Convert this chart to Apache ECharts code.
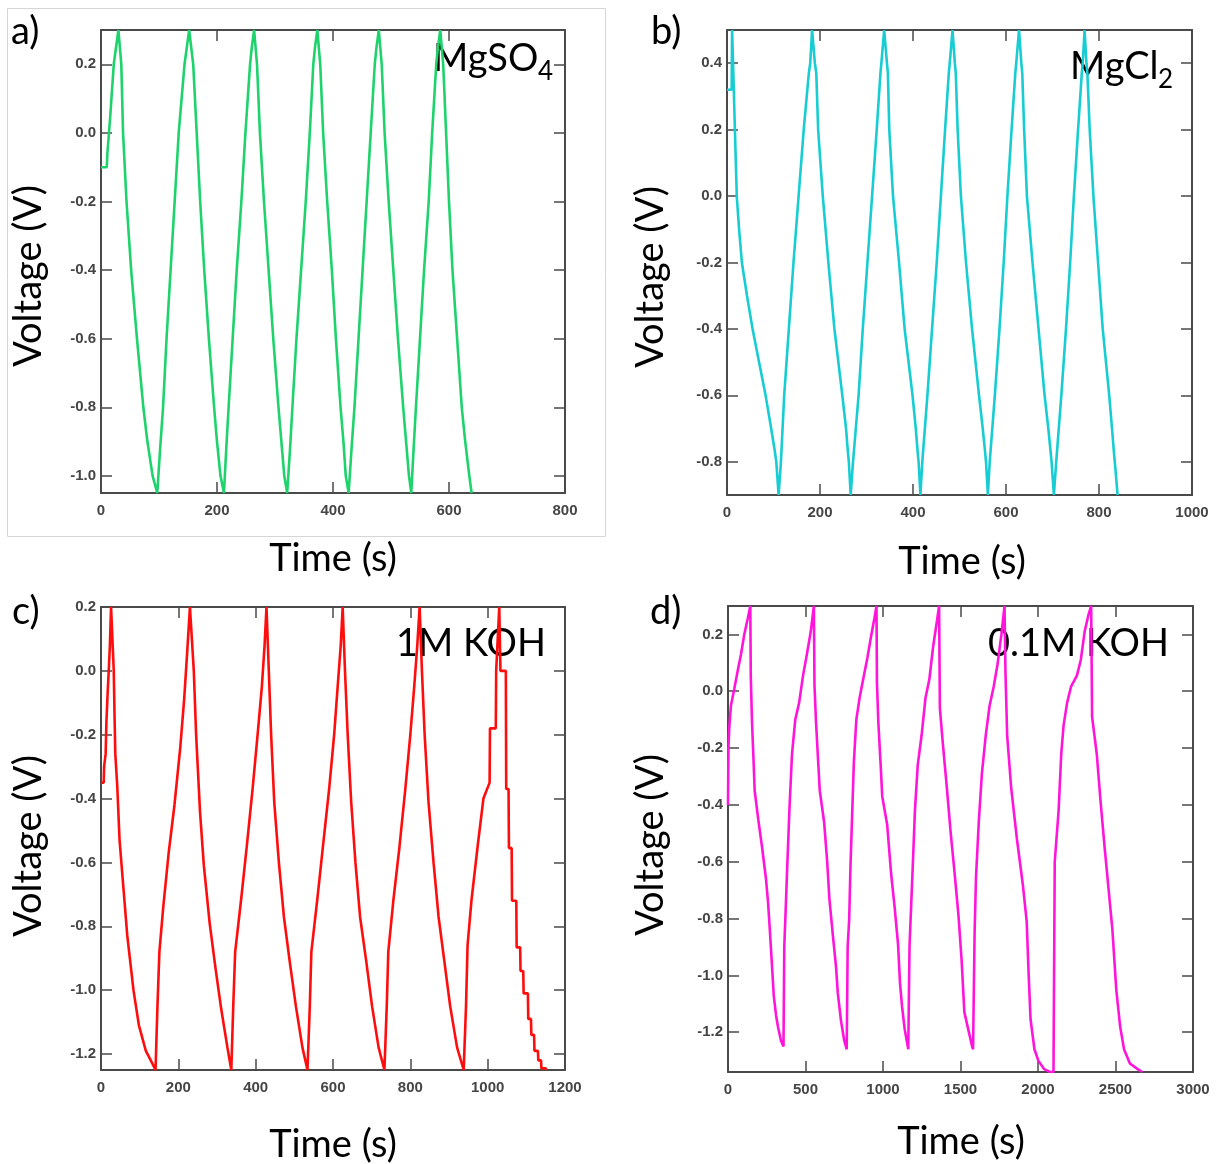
<!DOCTYPE html>
<html><head><meta charset="utf-8">
<script src="https://cdn.jsdelivr.net/npm/echarts@6/dist/echarts.min.js"></script>
<style>html,body{margin:0;padding:0;background:#fff}#c{width:1221px;height:1164px}</style>
</head><body><div id="c"></div>
<script>
// ---- Data: [time (s), voltage (V)] ----
const mgso4Data = [
 [0,-0.10],[10,-0.10],[11,-0.06],[16,0.05],[22,0.2],[30,0.3],
 [33,0.3],[35,0.2],[38,0.0],[44,-0.2],[52,-0.4],[62,-0.6],[73,-0.8],[80,-0.9],[89,-1.0],[97,-1.05],
 [100,-1.05],[102,-0.92],[107,-0.8],[113,-0.6],[120,-0.4],[127,-0.2],[134,0.0],[144,0.2],[148,0.25],[152,0.3],
 [155,0.3],[159,0.2],[165,0.0],[171,-0.2],[178,-0.4],[186,-0.6],[195,-0.8],[200,-0.9],[206,-1.0],[212,-1.05],
 [214,-1.05],[216,-0.92],[220,-0.8],[227,-0.6],[234,-0.4],[242,-0.2],[249,0.0],[257,0.2],[260,0.25],[264,0.3],
 [266,0.3],[269,0.2],[274,0.0],[281,-0.2],[289,-0.4],[297,-0.6],[306,-0.8],[311,-0.9],[316,-1.0],[321,-1.05],
 [323,-1.05],[326,-0.92],[330,-0.8],[337,-0.6],[345,-0.4],[353,-0.2],[360,0.0],[366,0.2],[369,0.25],[373,0.3],
 [375,0.3],[378,0.2],[383,0.0],[390,-0.2],[398,-0.4],[405,-0.6],[413,-0.8],[418,-0.9],[422,-1.0],[427,-1.05],
 [429,-1.05],[432,-0.92],[437,-0.8],[444,-0.6],[451,-0.4],[458,-0.2],[465,0.0],[472,0.2],[475,0.25],[479,0.3],
 [481,0.3],[484,0.2],[489,0.0],[496,-0.2],[504,-0.4],[512,-0.6],[521,-0.8],[526,-0.9],[531,-1.0],[535,-1.05],
 [537,-1.05],[539,-0.92],[543,-0.8],[550,-0.6],[557,-0.4],[565,-0.2],[571,0.0],[578,0.2],[581,0.25],[585,0.3],
 [587,0.3],[590,0.2],[595,0.0],[600,-0.2],[606,-0.4],[614,-0.6],[622,-0.8],[628,-0.9],[635,-1.0],[639,-1.05]
];
const mgcl2Data = [
 [0,0.32],[10,0.32],[11,0.5],[13,0.5],[15,0.3],[17,0.2],[21,0.0],[26,-0.1],[32,-0.2],[43,-0.3],[55,-0.4],[69,-0.5],[83,-0.6],[95,-0.7],[103,-0.77],[106,-0.8],[111,-0.9],
 [114,-0.9],[116,-0.8],[123,-0.6],[133,-0.4],[143,-0.2],[154,0.0],[165,0.2],[176,0.37],[179,0.4],[183,0.5],
 [186,0.5],[189,0.4],[192,0.37],[196,0.2],[206,0.0],[218,-0.2],[231,-0.4],[248,-0.6],[256,-0.7],[260,-0.77],[262,-0.8],[266,-0.9],
 [269,-0.9],[271,-0.8],[283,-0.6],[292,-0.4],[302,-0.2],[312,0.0],[322,0.2],[330,0.37],[332,0.4],[338,0.5],
 [341,0.5],[344,0.4],[346,0.37],[349,0.2],[357,0.0],[370,-0.2],[382,-0.4],[399,-0.6],[406,-0.7],[410,-0.77],[412,-0.8],[416,-0.9],
 [418,-0.9],[420,-0.8],[431,-0.6],[441,-0.4],[451,-0.2],[460,0.0],[469,0.2],[477,0.37],[479,0.4],[485,0.5],
 [487,0.5],[490,0.4],[492,0.37],[496,0.2],[503,0.0],[514,-0.2],[527,-0.4],[542,-0.6],[550,-0.7],[555,-0.77],[557,-0.8],[561,-0.9],
 [563,-0.9],[565,-0.8],[576,-0.6],[586,-0.4],[595,-0.2],[603,0.0],[612,0.2],[620,0.37],[622,0.4],[628,0.5],
 [630,0.5],[633,0.4],[635,0.37],[639,0.2],[645,0.0],[657,-0.2],[670,-0.4],[683,-0.6],[691,-0.7],[696,-0.77],[698,-0.8],[703,-0.9],
 [705,-0.9],[708,-0.8],[719,-0.6],[729,-0.4],[738,-0.2],[746,0.0],[755,0.2],[763,0.37],[765,0.4],[769,0.5],
 [771,0.5],[773,0.4],[775,0.37],[780,0.2],[788,0.0],[798,-0.2],[808,-0.4],[822,-0.6],[828,-0.7],[832,-0.77],[834,-0.8],[840,-0.9]
];
const koh1Data = [
 [0,-0.35],[7,-0.35],[8,-0.3],[12,-0.26],[14,-0.16],[17.5,-0.06],[20,0.0],[23,0.08],[26,0.2],
 [31,0.2],[33,0.0],[35,-0.14],[37,-0.26],[42,-0.36],[48,-0.53],[58,-0.68],[68,-0.83],[84,-1.0],[98,-1.11],[116,-1.19],[133,-1.23],[141,-1.25],
 [144,-1.25],[146,-1.05],[151,-0.88],[161,-0.74],[175,-0.57],[190,-0.42],[205,-0.24],[215,-0.09],[223,0.06],[230,0.2],
 [235,0.2],[240,0.0],[246,-0.2],[256,-0.44],[266,-0.61],[281,-0.79],[296,-0.93],[311,-1.06],[327,-1.18],[337,-1.25],
 [340,-1.25],[342,-1.05],[347,-0.88],[362,-0.72],[377,-0.55],[392,-0.37],[405,-0.2],[416,-0.05],[423,0.08],[428,0.2],
 [430,0.2],[434,0.0],[440,-0.2],[448,-0.41],[460,-0.6],[473,-0.77],[488,-0.91],[504,-1.05],[521,-1.18],[534,-1.25],
 [538,-1.25],[540,-1.05],[544,-0.88],[559,-0.72],[574,-0.55],[590,-0.37],[603,-0.2],[612,-0.05],[620,0.08],[625,0.2],
 [627,0.2],[631,0.0],[638,-0.2],[647,-0.41],[658,-0.6],[670,-0.77],[686,-0.91],[701,-1.05],[718,-1.18],[733,-1.25],
 [737,-1.25],[739,-1.05],[743,-0.88],[756,-0.72],[772,-0.55],[787,-0.37],[800,-0.2],[810,-0.05],[818,0.08],[824,0.2],
 [827,0.2],[830,0.0],[837,-0.2],[847,-0.41],[860,-0.6],[873,-0.77],[888,-0.91],[903,-1.05],[921,-1.18],[938,-1.25],
 [942,-1.25],[944,-1.05],[948,-0.86],[958,-0.72],[974,-0.55],[989,-0.4],[1005,-0.35],[1006,-0.18],[1021,-0.18],[1022,0.0],[1025,0.0],[1026,0.1],[1030,0.2],
 [1032,0.2],[1033,0.0],[1047,0.0],[1048,-0.37],[1054,-0.37],[1055,-0.555],[1062,-0.555],[1063,-0.72],[1074,-0.72],[1075,-0.866],[1084,-0.866],[1085,-0.94],
 [1092,-0.94],[1093,-1.01],[1104,-1.01],[1105,-1.09],[1112,-1.09],[1113,-1.14],[1120,-1.14],[1121,-1.19],[1130,-1.19],[1131,-1.22],[1138,-1.22],[1139,-1.245],[1150,-1.245],[1152,-1.25]
];
const koh01Data = [
 [0,-0.4],[3,-0.2],[8,-0.13],[19,-0.05],[41,0.01],[62,0.07],[84,0.13],[105,0.2],[127,0.255],[144,0.3],
 [146,0.3],[147,0.05],[155,-0.11],[166,-0.26],[172,-0.35],[195,-0.45],[220,-0.55],[245,-0.66],[258,-0.74],[271,-0.85],[282,-0.95],[295,-1.07],[310,-1.14],[322,-1.18],[342,-1.23],[358,-1.25],
 [362,-1.25],[363,-0.9],[370,-0.8],[382,-0.62],[396,-0.42],[413,-0.22],[434,-0.1],[459,-0.04],[484,0.055],[509,0.13],[534,0.21],[554,0.3],
 [557,0.3],[558,0.02],[568,-0.11],[583,-0.26],[592,-0.35],[620,-0.46],[640,-0.6],[654,-0.73],[675,-0.85],[697,-0.97],[708,-1.06],[729,-1.16],[750,-1.23],[766,-1.26],
 [771,-1.26],[772,-0.9],[782,-0.8],[790,-0.62],[800,-0.45],[812,-0.25],[828,-0.1],[850,-0.02],[875,0.05],[900,0.12],[922,0.19],[944,0.255],[958,0.3],
 [960,0.3],[961,0.03],[970,-0.11],[985,-0.26],[995,-0.37],[1027,-0.47],[1052,-0.64],[1075,-0.76],[1097,-0.89],[1110,-1.03],[1123,-1.11],[1140,-1.19],[1163,-1.26],
 [1170,-1.26],[1171,-0.9],[1182,-0.75],[1191,-0.63],[1206,-0.42],[1224,-0.26],[1249,-0.155],[1274,-0.024],[1299,0.042],[1324,0.16],[1349,0.25],[1362,0.3],
 [1366,0.3],[1367,-0.06],[1387,-0.19],[1412,-0.34],[1437,-0.5],[1462,-0.64],[1487,-0.79],[1507,-0.945],[1525,-1.13],[1550,-1.19],[1575,-1.25],[1581,-1.26],
 [1590,-1.26],[1591,-0.85],[1600,-0.655],[1618,-0.46],[1638,-0.29],[1663,-0.155],[1688,-0.05],[1714,0.016],[1739,0.095],[1764,0.2],[1784,0.3],
 [1789,0.3],[1790,0.07],[1801,-0.155],[1827,-0.34],[1864,-0.52],[1902,-0.68],[1927,-0.81],[1940,-1.0],[1952,-1.155],[1977,-1.26],[2002,-1.3],[2040,-1.33],[2078,-1.34],[2100,-1.34],
 [2106,-1.34],[2108,-0.6],[2133,-0.42],[2150,-0.22],[2165,-0.12],[2188,-0.04],[2213,0.016],[2251,0.055],[2276,0.11],[2301,0.21],[2326,0.27],[2343,0.3],
 [2348,0.3],[2349,-0.09],[2379,-0.22],[2404,-0.39],[2430,-0.55],[2455,-0.695],[2480,-0.84],[2505,-1.05],[2530,-1.18],[2555,-1.26],[2593,-1.31],[2643,-1.33],[2673,-1.34]
];

// ---- Tick values ----
const yTicksA = [-1.0,-0.8,-0.6,-0.4,-0.2,0.0,0.2];
const yTicksB = [-0.8,-0.6,-0.4,-0.2,0.0,0.2,0.4];
const yTicksC = [-1.2,-1.0,-0.8,-0.6,-0.4,-0.2,0.0,0.2];
const yTicksD = [-1.2,-1.0,-0.8,-0.6,-0.4,-0.2,0.0,0.2];

// ---- Labels ----
const panelLetters = ['a)','b)','c)','d)'];
const xTitle = 'Time (s)';
const yTitle = 'Voltage (V)';

const panels = [
  {data: mgso4Data, color:'#1ed36c', grid:{left:101,top:30,width:464,height:463}, xMax:800, xStep:200, yMin:-1.05, yMax:0.3, yTicks:yTicksA},
  {data: mgcl2Data, color:'#17cdd3', grid:{left:727,top:30,width:465,height:465}, xMax:1000, xStep:200, yMin:-0.9, yMax:0.5, yTicks:yTicksB},
  {data: koh1Data, color:'#ff0d0d', grid:{left:101,top:607,width:464,height:463}, xMax:1200, xStep:200, yMin:-1.25, yMax:0.2, yTicks:yTicksC},
  {data: koh01Data, color:'#ff14dc', grid:{left:728,top:606,width:465,height:466}, xMax:3000, xStep:500, yMin:-1.34, yMax:0.3, yTicks:yTicksD}
];

const AX = '#4a4a4a';
const LBL = {color:'#454545', fontSize:15, fontWeight:'bold', fontFamily:'Liberation Sans, Arial, sans-serif'};
const grids = [], xAxes = [], yAxes = [], series = [];
panels.forEach((p, i) => {
  grids.push(Object.assign({containLabel:false}, p.grid));
  const line = {show:true, onZero:false, lineStyle:{color:AX, width:2}};
  const tick = {show:true, inside:true, length:11, lineStyle:{color:AX, width:1.5}};
  xAxes.push({type:'value', gridIndex:i, position:'bottom', min:0, max:p.xMax, interval:p.xStep,
    axisLine:line, axisTick:tick, splitLine:{show:false},
    axisLabel:Object.assign({margin:10, formatter:v=>String(Math.round(v))}, LBL)});
  xAxes.push({type:'value', gridIndex:i, position:'top', min:0, max:p.xMax, interval:p.xStep,
    axisLine:line, axisTick:tick, splitLine:{show:false}, axisLabel:{show:false}});
  yAxes.push({type:'value', gridIndex:i, position:'left', min:p.yMin, max:p.yMax,
    axisLine:line, axisTick:Object.assign({customValues:p.yTicks}, tick), splitLine:{show:false},
    axisLabel:Object.assign({margin:5, customValues:p.yTicks, formatter:v=>Number(v).toFixed(1)}, LBL)});
  yAxes.push({type:'value', gridIndex:i, position:'right', min:p.yMin, max:p.yMax,
    axisLine:line, axisTick:Object.assign({customValues:p.yTicks}, tick), splitLine:{show:false},
    axisLabel:{show:false}});
  series.push({type:'line', xAxisIndex:2*i, yAxisIndex:2*i, data:p.data, showSymbol:false, symbol:'none',
    clip:true, lineStyle:{color:p.color, width:2.6}, itemStyle:{color:p.color}, silent:true});
});

const FONT = 'Lato, "Open Sans", sans-serif';
function txt(text, x, y, size, align, vAlign, rot){
  return {type:'text', x:x, y:y, rotation:rot||0, silent:true,
    style:{text:text, fill:'#000', font:size+'px '+FONT, align:align, verticalAlign:vAlign}};
}
const graphic = [
  {type:'rect', shape:{x:7.5,y:8.5,width:598,height:528}, style:{fill:'none', stroke:'#d6d6d6', lineWidth:1}, silent:true, z:-1},
  txt(panelLetters[0], 11, 32, 38, 'left', 'middle'),
  txt(panelLetters[1], 651, 32, 38, 'left', 'middle'),
  txt(panelLetters[2], 12, 612, 38, 'left', 'middle'),
  txt(panelLetters[3], 650, 612, 38, 'left', 'middle'),
  txt(xTitle, 333, 559, 38, 'center', 'middle'),
  txt(xTitle, 962, 562, 38, 'center', 'middle'),
  txt(xTitle, 333, 1145, 38, 'center', 'middle'),
  txt(xTitle, 961, 1142, 38, 'center', 'middle'),
  txt(yTitle, 29, 276, 38, 'center', 'middle', Math.PI/2),
  txt(yTitle, 651, 277, 38, 'center', 'middle', Math.PI/2),
  txt(yTitle, 29, 846, 38, 'center', 'middle', Math.PI/2),
  txt(yTitle, 651, 845, 38, 'center', 'middle', Math.PI/2),
  txt('MgSO', 433, 59, 38, 'left', 'middle'),
  txt('4', 538, 72, 26, 'left', 'middle'),
  txt('MgCl', 1070, 67, 38, 'left', 'middle'),
  txt('2', 1158, 80, 26, 'left', 'middle'),
  txt('1M KOH', 546, 644, 38, 'right', 'middle'),
  txt('0.1M KOH', 1169, 644, 38, 'right', 'middle')
];

const chart = echarts.init(document.getElementById('c'), null, {renderer:'canvas'});
chart.setOption({
  animation:false, backgroundColor:'#fff',
  grid:grids, xAxis:xAxes, yAxis:yAxes, series:series, graphic:graphic
});
</script></body></html>
